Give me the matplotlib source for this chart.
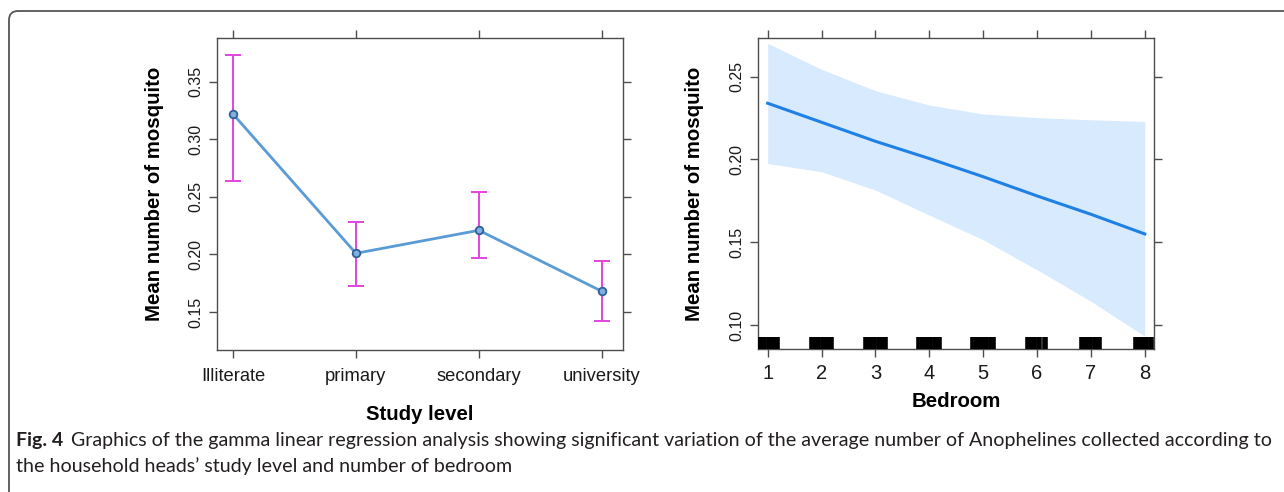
"""
Gamma regression effect plots: mosquito counts by study level and bedroom count
"""
import matplotlib
matplotlib.use('Agg')
import matplotlib.pyplot as plt
from matplotlib.path import Path
from matplotlib.patches import PathPatch

# Left panel: study level effects
levels = ['Illiterate', 'primary', 'secondary', 'university']
level_mean = [0.322, 0.201, 0.221, 0.168]
level_lower = [0.264, 0.173, 0.197, 0.142]
level_upper = [0.373, 0.228, 0.254, 0.194]
left_yticks = [0.15, 0.20, 0.25, 0.30, 0.35]

# Right panel: bedroom effect with confidence band
bedroom = [1, 2, 3, 4, 5, 6, 7, 8]
bed_fit = [0.234, 0.2225, 0.211, 0.2006, 0.1896, 0.178, 0.1669, 0.155]
bed_upper = [0.2702, 0.2545, 0.2416, 0.2329, 0.2275, 0.2253, 0.224, 0.223]
bed_lower = [0.1976, 0.1926, 0.1815, 0.1664, 0.1515, 0.1334, 0.1143, 0.0932]
right_yticks = [0.10, 0.15, 0.20, 0.25]

# jittered bedroom values for the rug
rug_x = [0.80, 0.84, 0.88, 0.92, 0.96, 1.00, 1.04, 1.08, 1.12, 1.16, 1.20,
         1.80, 1.84, 1.88, 1.92, 1.96, 2.00, 2.04, 2.08, 2.12, 2.16, 2.20,
         2.80, 2.84, 2.88, 2.92, 2.96, 3.00, 3.04, 3.08, 3.12, 3.16, 3.20,
         3.80, 3.84, 3.88, 3.92, 3.96, 4.00, 4.04, 4.08, 4.12, 4.16, 4.20,
         4.80, 4.84, 4.88, 4.92, 4.96, 5.00, 5.04, 5.08, 5.12, 5.16, 5.20,
         5.81, 5.85, 5.89, 5.93, 5.97, 6.01, 6.05, 6.13, 6.17,
         6.81, 6.85, 6.89, 6.93, 6.97, 7.01, 7.05, 7.09, 7.13, 7.17,
         7.81, 7.85, 7.89, 7.93, 7.97, 8.01, 8.05, 8.09, 8.13]

caption_head = 'Fig. 4'
caption_line1 = ('Graphics of the gamma linear regression analysis showing significant '
                 'variation of the average number of Anophelines collected according to')
caption_line2 = 'the household heads\u2019 study level and number of bedroom'

tick_font = 'Liberation Sans'
frame_col = '#4d4d4d'
W, H = 1284, 492


def style_axes(ax, xsize, ysize):
    for s in ax.spines.values():
        s.set_color(frame_col)
        s.set_linewidth(1.0)
    ax.tick_params(direction='out', length=6, width=1.0, color=frame_col,
                   top=True, right=True, labeltop=False, labelright=False)
    ax.tick_params(axis='x', labelsize=xsize, pad=5)
    ax.tick_params(axis='y', labelsize=ysize, pad=4)
    for lab in ax.get_yticklabels():
        lab.set_rotation(90)
        lab.set_va('center')
    for lab in ax.get_xticklabels() + ax.get_yticklabels():
        lab.set_fontfamily(tick_font)
        lab.set_color('#1a1a1a')


def axis_labels(ax, xlabel, ylabel, xcoord, ycoord):
    ax.set_xlabel(xlabel, fontsize=14.7, fontweight='bold', fontfamily=tick_font)
    ax.set_ylabel(ylabel, fontsize=14.7, fontweight='bold', fontfamily=tick_font)
    ax.xaxis.set_label_coords(0.5, xcoord)
    ax.yaxis.set_label_coords(ycoord, 0.5)
    ax.xaxis.label.set_va('center')
    ax.yaxis.label.set_va('center')


fig = plt.figure(figsize=(12.84, 4.92), dpi=100)

# ---- left panel ----
ax1 = fig.add_axes([0.169, 0.2886, 0.316, 0.634])
xs = list(range(1, len(levels) + 1))
yerr = [[m - l for m, l in zip(level_mean, level_lower)],
        [u - m for m, u in zip(level_mean, level_upper)]]
ax1.errorbar(xs, level_mean, yerr=yerr, fmt='none', ecolor='#e444df',
             elinewidth=1.4, capsize=5.5, capthick=1.4, zorder=2)
ax1.plot(xs, level_mean, color='#5a9bd6', lw=2.0, marker='o', ms=5.5,
         mfc='#7fb0df', mec='#2f5f95', mew=1.3, zorder=3)
ax1.set_xlim(0.87, 4.17)
ax1.set_ylim(0.117, 0.388)
ax1.set_xticks(xs)
ax1.set_xticklabels(levels)
ax1.set_yticks(left_yticks)
ax1.set_yticklabels([f'{v:.2f}' for v in left_yticks])
style_axes(ax1, 13.2, 11.5)
ax1.tick_params(axis='x', pad=7)
axis_labels(ax1, 'Study level', 'Mean number of mosquito', -0.208, -0.153)

# ---- right panel ----
ax2 = fig.add_axes([0.5903, 0.2907, 0.3084, 0.632])
ax2.fill_between(bedroom, bed_lower, bed_upper, color='#d8eafd', lw=0, zorder=1)
ax2.plot(bedroom, bed_fit, color='#1f80e6', lw=2.2, zorder=3)
ax2.vlines(rug_x, 0, 0.04, transform=ax2.get_xaxis_transform(),
           color='black', lw=2.6, zorder=4)
ax2.set_xlim(0.82, 8.17)
ax2.set_ylim(0.0855, 0.2734)
ax2.set_xticks(bedroom)
ax2.set_yticks(right_yticks)
ax2.set_yticklabels([f'{v:.2f}' for v in right_yticks])
style_axes(ax2, 14.5, 11.5)
axis_labels(ax2, 'Bedroom', 'Mean number of mosquito', -0.170, -0.159)

# ---- frame with rounded top-left corner (open to right and bottom) ----
r = 9
verts = [(1284, 11), (9 + r, 11), (9, 11), (9, 11 + r), (9, 492)]
codes = [Path.MOVETO, Path.LINETO, Path.CURVE3, Path.CURVE3, Path.LINETO]
verts = [(x / W, 1 - y / H) for x, y in verts]
fig.patches.append(PathPatch(Path(verts, codes), transform=fig.transFigure,
                             fill=False, edgecolor='#555555', lw=1.3))

# ---- caption, sized so that the first line ends near the right edge ----
cap_font = 'Lato'
cap_col = '#231f20'
head = fig.text(16 / W, 1 - 446 / H, caption_head, fontsize=14, fontweight='bold',
                fontfamily=cap_font, color=cap_col, va='baseline')
renderer = fig.canvas.get_renderer()
head_end = head.get_window_extent(renderer).x1 + 8
body1 = fig.text(head_end / W, 1 - 446 / H, caption_line1, fontsize=14,
                 fontfamily=cap_font, color=cap_col, va='baseline')
width = body1.get_window_extent(renderer).width
size = 14 * (1278 - head_end) / width
body1.set_fontsize(size)
fig.text(16 / W, 1 - 472 / H, caption_line2, fontsize=size,
         fontfamily=cap_font, color=cap_col, va='baseline')

fig.savefig('out.png', dpi=100)
